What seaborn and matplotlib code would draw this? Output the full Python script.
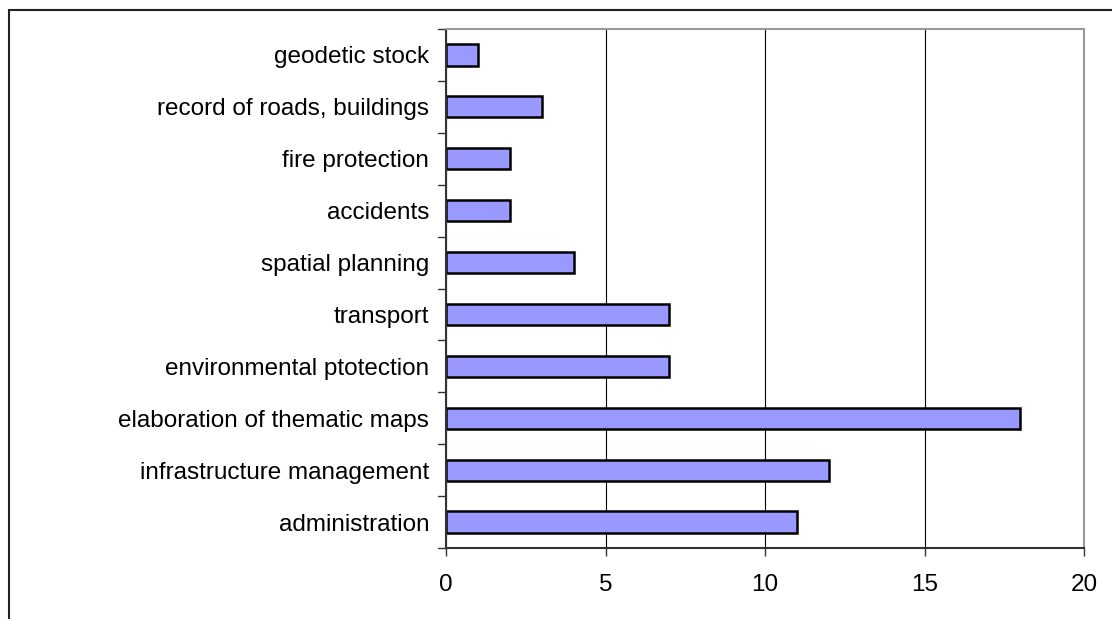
import matplotlib
matplotlib.use("Agg")
import matplotlib.pyplot as plt
import seaborn as sns
import pandas as pd
from matplotlib.patches import Rectangle

# data, top to bottom as in the chart
categories = [
    "geodetic stock",
    "record of roads, buildings",
    "fire protection",
    "accidents",
    "spatial planning",
    "transport",
    "environmental ptotection",
    "elaboration of thematic maps",
    "infrastructure management",
    "administration",
]
counts = [1, 3, 2, 2, 4, 7, 7, 18, 12, 11]
x_ticks = [0, 5, 10, 15, 20]


def plot_usage(df):
    sns.set_style("white")
    plt.rcParams["font.family"] = ["Liberation Sans", "DejaVu Sans"]
    plt.rcParams["text.color"] = "black"
    plt.rcParams["xtick.color"] = "black"
    plt.rcParams["ytick.color"] = "black"

    fig = plt.figure(figsize=(11.12, 6.19), dpi=100)
    ax = fig.add_axes([446 / 1112, 1 - 548 / 619, 638 / 1112, 519 / 619])

    sns.barplot(data=df, x="count", y="category", color="#9999FF",
                edgecolor="black", linewidth=1.8, width=0.41,
                saturation=1, ax=ax)

    ax.set_xlim(0, 20)
    ax.set_ylim(len(categories) - 0.5, -0.5)
    ax.set_xticks(x_ticks)
    ax.set_xticklabels([str(t) for t in x_ticks], fontsize=17.5)
    ax.tick_params(axis="y", labelsize=17.5, labelcolor="black", length=0, pad=12)
    ax.tick_params(axis="x", length=6, width=1, direction="out", pad=13,
                   bottom=True, color="#333333", labelcolor="black")
    ax.set_xlabel("")
    ax.set_ylabel("")

    # vertical gridlines
    ax.grid(axis="x", color="black", linewidth=0.8)
    ax.set_axisbelow(True)

    # y ticks between categories
    for b in [i - 0.5 for i in range(len(categories) + 1)]:
        ax.plot([-0.25, 0], [b, b], color="#333333", lw=1, clip_on=False)

    for side in ["top", "right"]:
        ax.spines[side].set_color("#999999")
        ax.spines[side].set_linewidth(1.5)
    for side in ["left", "bottom"]:
        ax.spines[side].set_color("#333333")
        ax.spines[side].set_linewidth(1.5)

    # outer chart frame
    fig.patches.append(Rectangle((9 / 1112, -0.1), 1.2, 1 - 10 / 619 + 0.1,
                                 transform=fig.transFigure, fill=False,
                                 edgecolor="#222222", linewidth=1.5))

    fig.savefig("out.png", dpi=100)


def main():
    df = pd.DataFrame({"category": categories, "count": counts})
    plot_usage(df)


if __name__ == "__main__":
    main()
